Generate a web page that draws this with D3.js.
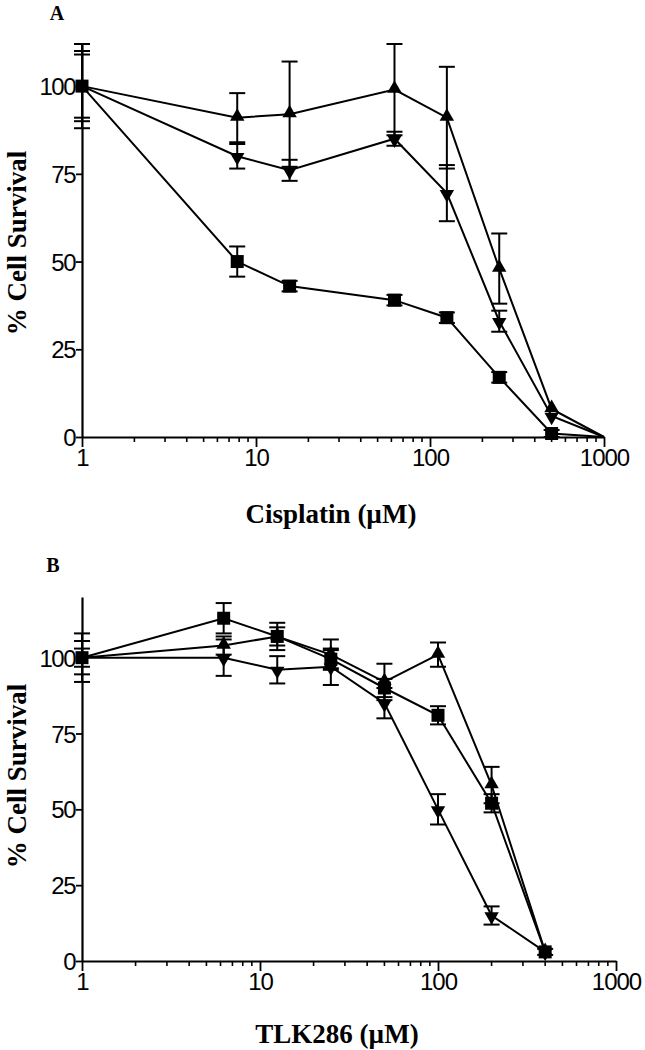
<!DOCTYPE html>
<html><head><meta charset="utf-8">
<script src="https://cdn.jsdelivr.net/npm/d3@7"></script>
<style>body{margin:0;background:#fff}svg{display:block}</style>
</head><body>
<script>
// ---- Panel A data (Cisplatin) ----
const concA = [1, 7.8, 15.6, 62.5, 125, 250, 500, 1000];
const squareA = [100, 50, 43, 39, 34, 17, 1, 0];
const squareAErr = [9, 4.3, 1.5, 1.5, 1.5, 1.5, 1, 0];
const upA = [100, 91, 92, 99, 91, 48, 8, 0];
const upAErr = [12, 7, 15, 13, 14.5, 10, 0, 0];
const downA = [100, 80, 76, 85, 69.5, 33, 6, 0];
const downAErr = [10, 3.5, 3, 2, 8, 3, 0, 0];
// ---- Panel B data (TLK286) ----
const concB = [1, 6.25, 12.5, 25, 50, 100, 200, 400];
const squareB = [100, 113, 107, 99.5, 90, 81, 52, 3];
const squareBErr = [3, 5, 4.5, 3, 3, 3, 3, 1];
const upB = [100, 104, 107, 101, 92, 101, 58, 3];
const upBErr = [8, 3, 3, 5, 6, 4, 6, 0];
const downB = [100, 100, 96, 97, 85, 50, 15, 3];
const downBErr = [5.5, 6, 4.5, 6, 5, 5, 3, 0];
const yTicks = [0, 25, 50, 75, 100];
const xTicks = [1, 10, 100, 1000];

const W = 645, H = 1050;
const svg = d3.select("body").append("svg").attr("width", W).attr("height", H);

function panel(cfg) {
  const g = svg.append("g");
  const x = d3.scaleLog().domain([1, 1000]).range([cfg.x0, cfg.x1]);
  const y = d3.scaleLinear().domain([0, cfg.ymax]).range([cfg.y0, cfg.ytop]);

  // minor ticks
  const minor = [];
  for (let d = 1; d < 1000; d *= 10) for (let k = 2; k <= 9; k++) minor.push(d * k);
  g.append("g").selectAll("line").data(minor).join("line")
    .attr("x1", d => x(d)).attr("x2", d => x(d))
    .attr("y1", cfg.y0).attr("y2", cfg.y0 + 5)
    .attr("stroke", "#000").attr("stroke-width", 1.6);

  const xa = g.append("g").attr("transform", `translate(0,${cfg.y0})`)
    .call(d3.axisBottom(x).tickValues(xTicks).tickFormat(d3.format("d")).tickSize(10).tickSizeOuter(0));
  const ya = g.append("g").attr("transform", `translate(${cfg.x0},0)`)
    .call(d3.axisLeft(y).tickValues(yTicks).tickSize(6).tickSizeOuter(0));
  [xa, ya].forEach(a => {
    a.select(".domain").attr("stroke", "#000").attr("stroke-width", 2.2);
    a.selectAll(".tick line").attr("stroke", "#000").attr("stroke-width", 1.8);
    a.selectAll("text").attr("font-family", "Liberation Sans, Arial, sans-serif")
      .attr("font-size", 24).attr("fill", "#000");
  });
  xa.selectAll("text").attr("dy", "0.9em").attr("y", 7).attr("letter-spacing", -1);
  ya.selectAll("text").attr("x", -7).attr("dy", "0.36em").attr("letter-spacing", -1.5);

  const line = d3.line().x(d => x(d[0])).y(d => y(d[1]));
  cfg.series.forEach(s => {
    const pts = cfg.conc.map((c, i) => [c, s.v[i], s.e[i]]);
    g.append("path").datum(pts).attr("d", line)
      .attr("fill", "none").attr("stroke", "#000").attr("stroke-width", 2);
    const eb = g.append("g").selectAll("g").data(pts.filter(p => p[2] > 0)).join("g");
    eb.append("line").attr("x1", d => x(d[0])).attr("x2", d => x(d[0]))
      .attr("y1", d => y(d[1] + d[2])).attr("y2", d => y(d[1] - d[2]))
      .attr("stroke", "#000").attr("stroke-width", 2);
    [1, -1].forEach(sg => {
      eb.append("line").attr("x1", d => x(d[0]) - 8).attr("x2", d => x(d[0]) + 8)
        .attr("y1", d => y(d[1] + sg * d[2])).attr("y2", d => y(d[1] + sg * d[2]))
        .attr("stroke", "#000").attr("stroke-width", 2);
    });
  });
  cfg.series.forEach(s => {
    const pts = cfg.conc.map((c, i) => [c, s.v[i]]).filter((p, i) => s.show ? s.show(i) : true);
    const sym = d3.symbol().type(s.type === "square" ? d3.symbolSquare : d3.symbolTriangle)
      .size(s.type === "square" ? 169 : 90);
    g.append("g").selectAll("path").data(pts).join("path")
      .attr("d", sym)
      .attr("transform", d => `translate(${x(d[0])},${y(d[1]) + (s.type === "down" ? 1 : s.type === "up" ? -1 : 0)}) rotate(${s.type === "down" ? 180 : 0})`)
      .attr("fill", "#000");
  });

  svg.append("text").text(cfg.label).attr("x", cfg.labelX).attr("y", cfg.labelY)
    .attr("font-family", "Liberation Serif, Times New Roman, serif").attr("font-weight", "bold")
    .attr("font-size", 20).attr("text-anchor", "middle");
  svg.append("text").text("% Cell Survival")
    .attr("transform", `translate(26,${cfg.ytitleY}) rotate(-90)`)
    .attr("font-family", "Liberation Serif, Times New Roman, serif").attr("font-weight", "bold")
    .attr("font-size", 27).attr("text-anchor", "middle");
  svg.append("text").text(cfg.xtitle).attr("x", (cfg.x0 + cfg.x1) / 2 - 12).attr("y", cfg.xtitleY)
    .attr("font-family", "Liberation Serif, Times New Roman, serif").attr("font-weight", "bold")
    .attr("font-size", 27).attr("text-anchor", "middle");
}

panel({
  x0: 82, x1: 604, y0: 437, ytop: 44, ymax: 112,
  conc: concA,
  series: [
    {v: squareA, e: squareAErr, type: "square", show: i => i < 7},
    {v: upA, e: upAErr, type: "up", show: i => i > 0 && i < 7},
    {v: downA, e: downAErr, type: "down", show: i => i > 0 && i < 7}
  ],
  label: "A", labelX: 57, labelY: 20, ytitleY: 243, xtitle: "Cisplatin (\u00b5M)", xtitleY: 523
});
panel({
  x0: 82, x1: 616, y0: 961, ytop: 597, ymax: 120,
  conc: concB,
  series: [
    {v: downB, e: downBErr, type: "down", show: i => i > 0},
    {v: upB, e: upBErr, type: "up", show: i => i > 0},
    {v: squareB, e: squareBErr, type: "square"}
  ],
  label: "B", labelX: 53, labelY: 572, ytitleY: 776, xtitle: "TLK286 (\u00b5M)", xtitleY: 1043
});
</script>
</body></html>
